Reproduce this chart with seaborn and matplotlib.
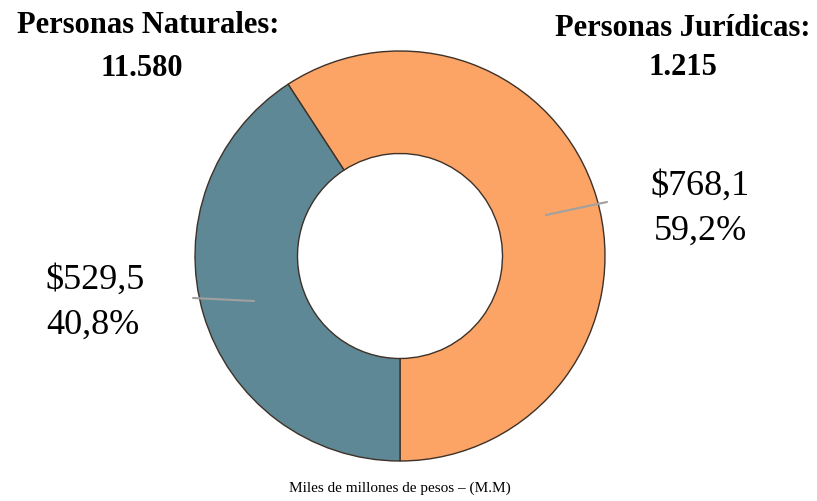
import matplotlib
matplotlib.use("Agg")
import matplotlib.pyplot as plt
import seaborn as sns

sns.set_style("white")
plt.rcParams['font.family'] = ['Liberation Serif', 'DejaVu Serif']
plt.rcParams['text.color'] = 'black'

# data
groups = ['Personas Jurídicas', 'Personas Naturales']
counts = ['1.215', '11.580']
amounts = [768.1, 529.5]
shares = ['59,2%', '40,8%']
colors = ['#FBA466', '#5E8895']
caption = 'Miles de millones de pesos \u2013 (M.M)'

W, H = 817, 502
fig = plt.figure(figsize=(W / 100, H / 100), dpi=100)

# donut: centre ~ (400, 257) px, radius ~205 px
cx, cy, r = 400, 257, 205
ax = fig.add_axes([(cx - r) / W, (H - cy - r) / H, 2 * r / W, 2 * r / H])
wedges, _ = ax.pie(amounts, colors=colors, startangle=270, counterclock=True,
                   radius=1, wedgeprops=dict(width=0.5, edgecolor='#3e3128', linewidth=1.0))
ax.set_xlim(-1, 1)
ax.set_ylim(-1, 1)
ax.axis('off')

def fx(px):
    return px / W

def fy(py):
    return 1 - py / H

# leader lines
fig.add_artist(plt.Line2D([fx(546), fx(607)], [fy(216), fy(203)], color='#A0A0A0', lw=1.5))
fig.add_artist(plt.Line2D([fx(193), fx(254)], [fy(299), fy(302)], color='#A0A0A0', lw=1.5))

# value labels
fig.text(fx(700), fy(186), f'${amounts[0]:.1f}'.replace('.', ','), ha='center', va='center', fontsize=26)
fig.text(fx(700), fy(231), shares[0], ha='center', va='center', fontsize=26)
fig.text(fx(95), fy(280), f'${amounts[1]:.1f}'.replace('.', ','), ha='center', va='center', fontsize=26)
fig.text(fx(93), fy(325), shares[1], ha='center', va='center', fontsize=26)

# group titles
fig.text(fx(148), fy(33), groups[1] + ':', ha='center', va='baseline', fontsize=22, fontweight='bold')
fig.text(fx(142), fy(76), counts[1], ha='center', va='baseline', fontsize=22, fontweight='bold')
fig.text(fx(683), fy(36), groups[0] + ':', ha='center', va='baseline', fontsize=22, fontweight='bold')
fig.text(fx(683), fy(75), counts[0], ha='center', va='baseline', fontsize=22, fontweight='bold')

fig.text(fx(400), fy(488), caption, ha='center', va='center', fontsize=11)

fig.savefig('out.png', dpi=100)
